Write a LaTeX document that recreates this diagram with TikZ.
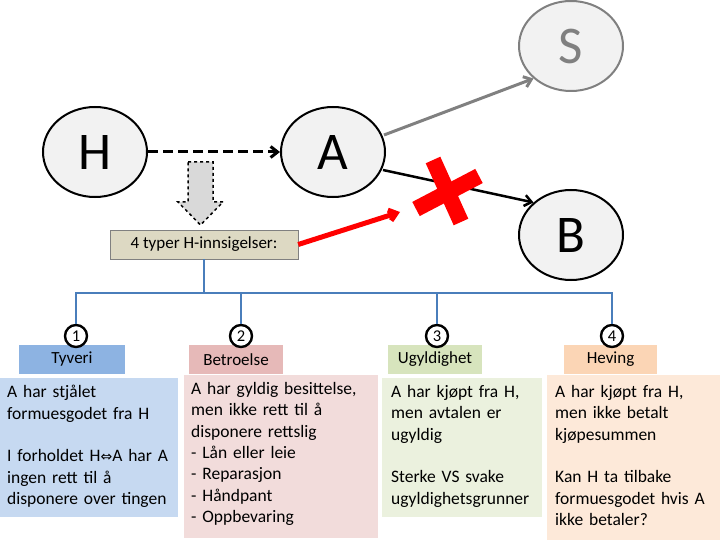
\documentclass[tikz,border=0pt]{standalone}
\usepackage{fontspec}
\setmainfont{Carlito}
\newfontfamily\symfont{DejaVu Sans}
\usetikzlibrary{arrows.meta,shapes.geometric,positioning,calc}

\definecolor{ovalfill}{HTML}{F2F2F2}
\definecolor{treeblue}{HTML}{4A7EBB}
\definecolor{labelfill}{HTML}{DDD9C3}
\definecolor{headA}{HTML}{8DB3E2}
\definecolor{headB}{HTML}{E6B9B8}
\definecolor{headC}{HTML}{D7E4BD}
\definecolor{headD}{HTML}{FBD5B5}
\definecolor{panelA}{HTML}{C6D9F1}
\definecolor{panelB}{HTML}{F2DCDB}
\definecolor{panelC}{HTML}{EBF1DE}
\definecolor{panelD}{HTML}{FDE9D9}
\definecolor{xred}{HTML}{FF0000}

\begin{document}
\begin{tikzpicture}[x=1pt,y=-1pt,
    party/.style={draw, ellipse, line width=2pt, fill=ovalfill, minimum width=104pt, minimum height=90pt, inner sep=0pt, font=\fontsize{53}{53}\selectfont},
    numdot/.style={draw, circle, line width=2.4pt, fill=white, minimum size=22pt, inner sep=0pt, font=\fontsize{16.5}{16.5}\selectfont},
    head/.style={rectangle, minimum height=29pt, inner sep=0pt, font=\fontsize{17}{17}\selectfont},
    panel/.style={rectangle, anchor=north west, inner sep=0pt},
    body/.style={anchor=north west, inner sep=0pt, align=left, text width=190pt, font=\fontsize{17.5}{21.4}\selectfont},
    tree/.style={treeblue, line width=2pt},
    arrow/.style={-{Straight Barb[length=7pt,width=11pt]}}
]
\useasboundingbox (0,0) rectangle (720,540);

% Parties
\node[party] (h) at (95,152) {H};
\node[party] (a) at (333,152) {A};
\node[party, draw=gray, text=gray] (s) at (571,46) {S};
\node[party] (b) at (571,235) {B};

% Transfers
\draw[arrow, line width=3pt, dash pattern=on 10pt off 5pt] (h) -- (a);
\draw[arrow, gray, line width=3pt] ($(a.east)+(-2,-17)$) coordinate (as) (as) -- (s.south west);
\draw[arrow, line width=2.5pt] ($(a.east)+(-3,18)$) coordinate (ab) (ab) -- (b.north west);

% Objection label with block arrow
\draw[dashed, line width=1.5pt, fill=gray!30]
    (188,162) -- (213,162) -- (213,202) -- (223,202) -- (200.5,225) -- (178,202) -- (188,202) -- cycle;
\node[draw=gray, fill=labelfill, minimum width=188pt, minimum height=29pt, inner sep=0pt, font=\fontsize{17}{17}\selectfont] (lbl) at (204,244.5) {4 typer H-innsigelser:};
\draw[arrow, xred, line width=5pt] (lbl.east) -- (400,212);

% Red cross
\draw[xred, line width=16pt] (416,209) -- (479,176);
\draw[xred, line width=16pt] (433,160) -- (461,222);

% Headers
\node[head, fill=headA, minimum width=106pt] (k1) at (72,359.5) {Tyveri};
\node[head, fill=headB, minimum width=94pt] (k2) at (236,359.5) {Betroelse};
\node[head, fill=headC, minimum width=94pt] (k3) at (435,359.5) {Ugyldighet};
\node[head, fill=headD, minimum width=93pt] (k4) at (610.5,359.5) {Heving};

% Tree
\coordinate (fork) at ($(lbl.south)+(0,34)$);
\node[numdot] (n1) at (76,336) {1};
\node[numdot] (n2) at (241,336) {2};
\node[numdot] (n3) at (437,336) {3};
\node[numdot] (n4) at (612,336) {4};
\draw[tree] (lbl.south) -- (fork);
\foreach \i in {1,...,4}
    \draw[tree] (fork) -| (n\i.north);

% Panels
\node[panel, fill=panelA, minimum width=178pt, minimum height=139pt] (p1) at (0,378) {};
\node[panel, fill=panelB, minimum width=194pt, minimum height=163pt] (p2) at (184,375) {};
\node[panel, fill=panelC, minimum width=160pt, minimum height=139pt] (p3) at (382,378) {};
\node[panel, fill=panelD, minimum width=173pt, minimum height=165pt] (p4) at (547,375) {};

\node[body] (t1) at ($(p1.north west)+(7,7)$)
    {A har stjålet\\formuesgodet fra H\\[21.4pt]I forholdet H{\symfont\fontsize{14}{14}\selectfont ⇔}A har A\\ingen rett til å\\disponere over tingen};
\node[body] (t2) at ($(p2.north west)+(7,7)$)
    {A har gyldig besittelse,\\men ikke rett til å\\disponere rettslig\\- Lån eller leie\\- Reparasjon\\- Håndpant\\- Oppbevaring};
\node[body] (t3) at ($(p3.north west)+(9,7)$)
    {A har kjøpt fra H,\\men avtalen er\\ugyldig\\[21.4pt]Sterke VS svake\\ugyldighetsgrunner};
\node[body] (t4) at ($(p4.north west)+(8,10)$)
    {A har kjøpt fra H,\\men ikke betalt\\kjøpesummen\\[21.4pt]Kan H ta tilbake\\formuesgodet hvis A\\ikke betaler?};

\end{tikzpicture}
\end{document}
